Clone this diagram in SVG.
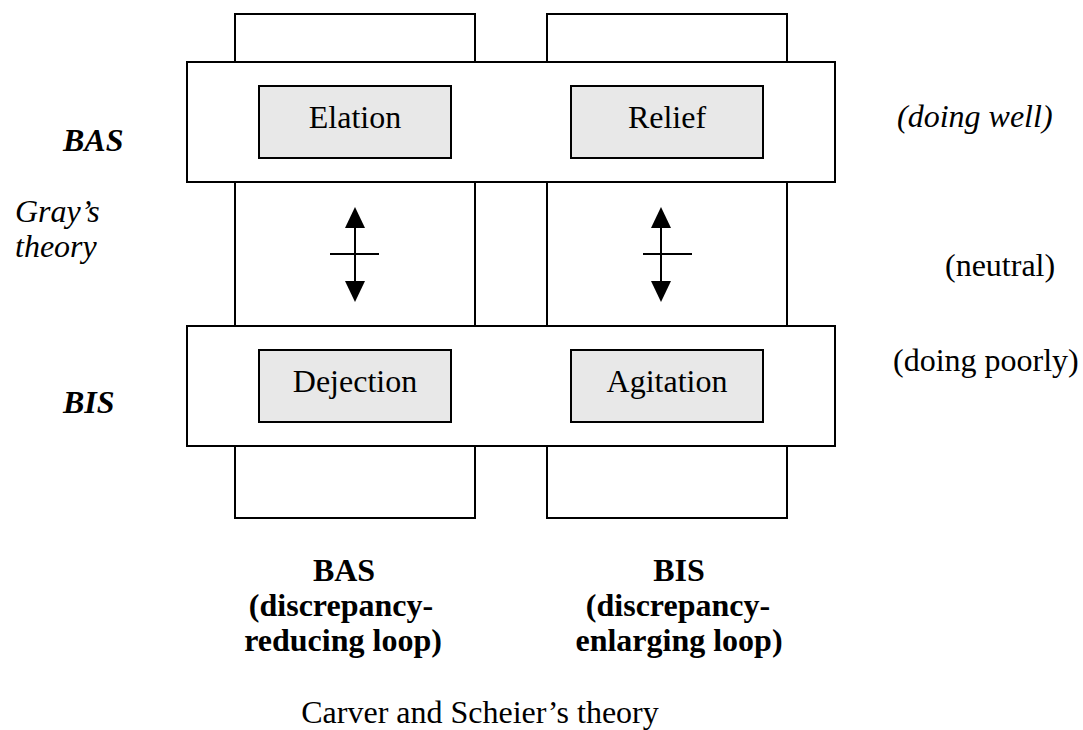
<svg xmlns="http://www.w3.org/2000/svg" width="1083" height="730" viewBox="0 0 1083 730">
<style>
.ln{fill:none;stroke:#000;stroke-width:2}
.band{fill:#fff;stroke:#000;stroke-width:2}
.box{fill:#e8e8e8;stroke:#000;stroke-width:2}
.t{font-family:"Liberation Serif","Times New Roman",serif;font-size:32px;fill:#000}
.c{text-anchor:middle}
.i{font-style:italic}
.b{font-weight:bold}
.bl{font-family:"Liberation Serif","Times New Roman",serif;font-size:32px;font-weight:bold;text-anchor:middle;fill:#000}
</style>
<rect width="1083" height="730" fill="#fff"/>
<g id="col-bas"><rect class="ln" x="235" y="14" width="240" height="504"/></g>
<g id="col-bis"><rect class="ln" x="547" y="14" width="240" height="504"/></g>
<g id="band-bas"><rect class="band" x="187" y="62" width="648" height="120"/></g>
<g id="band-bis"><rect class="band" x="187" y="326" width="648" height="120"/></g>
<g id="elation"><rect class="box" x="259" y="86" width="192" height="72"/><text class="t c" x="355" y="128">Elation</text></g>
<g id="relief"><rect class="box" x="571" y="86" width="192" height="72"/><text class="t c" x="667" y="128">Relief</text></g>
<g id="dejection"><rect class="box" x="259" y="350" width="192" height="72"/><text class="t c" x="355" y="392">Dejection</text></g>
<g id="agitation"><rect class="box" x="571" y="350" width="192" height="72"/><text class="t c" x="667" y="392">Agitation</text></g>
<g id="connectors">
<line class="ln" x1="355" y1="225" x2="355" y2="284"/>
<polygon points="355,207 345,228 365,228"/>
<polygon points="355,302 345,281 365,281"/>
<line class="ln" x1="330" y1="254" x2="379" y2="254"/>
<line class="ln" x1="661" y1="225" x2="661" y2="284"/>
<polygon points="661,207 651,228 671,228"/>
<polygon points="661,302 651,281 671,281"/>
<line class="ln" x1="643" y1="254" x2="692" y2="254"/>
</g>
<g id="left-labels">
<text class="t i b" x="63" y="151">BAS</text>
<text class="t i" x="15" y="222">Gray’s</text>
<text class="t i" x="15" y="257">theory</text>
<text class="t i b" x="63" y="413">BIS</text>
</g>
<g id="right-labels">
<text class="t i" x="897" y="127">(doing well)</text>
<text class="t" x="945" y="276">(neutral)</text>
<text class="t" x="893" y="371">(doing poorly)</text>
</g>
<g id="bottom-labels">
<text class="bl" x="344" y="581">BAS</text>
<text class="bl" x="341" y="616">(discrepancy-</text>
<text class="bl" x="343" y="651">reducing loop)</text>
<text class="bl" x="679" y="581">BIS</text>
<text class="bl" x="678" y="616">(discrepancy-</text>
<text class="bl" x="679" y="651">enlarging loop)</text>
<text class="t c" x="480" y="723">Carver and Scheier’s theory</text>
</g>
</svg>
